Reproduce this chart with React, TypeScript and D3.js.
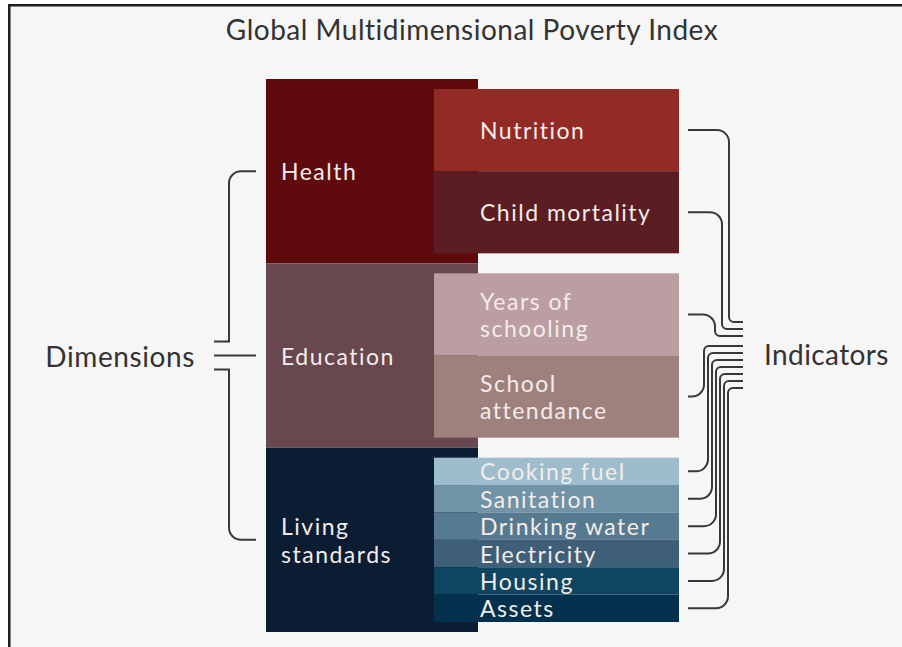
import * as d3 from 'd3';
import React from 'react';

// dimensions of the index, equal weights
const dimensions = ['Health', 'Education', 'Living standards'];
const dimensionWeights = [1 / 3, 1 / 3, 1 / 3];
const dimensionColors = ['#5f0a0d', '#68474f', '#0b1d33'];

// indicators, grouped by dimension
const indicators = [
  'Nutrition', 'Child mortality',
  'Years of schooling', 'School attendance',
  'Cooking fuel', 'Sanitation', 'Drinking water', 'Electricity', 'Housing', 'Assets',
];
const indicatorDimension = [0, 0, 1, 1, 2, 2, 2, 2, 2, 2];
const indicatorWeights = [1 / 6, 1 / 6, 1 / 6, 1 / 6, 1 / 18, 1 / 18, 1 / 18, 1 / 18, 1 / 18, 1 / 18];
const indicatorColors = [
  '#922b26', '#5b1c22',
  '#bb9ea2', '#9e817d',
  '#9ebdcc', '#7093a7', '#567b90', '#3e5f77', '#0e4560', '#03304c',
];
// labels wrapped as in the original
const indicatorLines = [
  ['Nutrition'], ['Child mortality'],
  ['Years of', 'schooling'], ['School', 'attendance'],
  ['Cooking fuel'], ['Sanitation'], ['Drinking water'], ['Electricity'], ['Housing'], ['Assets'],
];
const dimensionLines = [['Health'], ['Education'], ['Living', 'standards']];

const title = 'Global Multidimensional Poverty Index';
const leftLabel = 'Dimensions';
const rightLabel = 'Indicators';

const W = 902;
const H = 647;
const FONT = 'Lato, "Open Sans", sans-serif';
const TEXT_IN = '#f4ecea';
const INK = '#333';

export default function App() {
  // layout
  const dimX = 266, dimW = 212;
  const indX = 434, indW = 245;
  const inset = 10;

  const y = d3.scaleLinear().domain([0, 1]).range([79, 632]);

  const dimCum = d3.cumsum(dimensionWeights);
  const dimRects = dimensions.map((name, i) => {
    const w0 = i === 0 ? 0 : dimCum[i - 1];
    const w1 = dimCum[i];
    return { name, i, y0: y(w0), y1: y(w1), color: dimensionColors[i] };
  });

  // indicator positions inside each dimension
  const indRects = indicators.map((name, k) => {
    const d = indicatorDimension[k];
    const r = dimRects[d];
    const members = indicators.map((_, j) => j).filter(j => indicatorDimension[j] === d);
    const total = d3.sum(members, j => indicatorWeights[j]);
    const before = d3.sum(members.filter(j => j < k), j => indicatorWeights[j]);
    const inner = d3.scaleLinear().domain([0, total]).range([r.y0 + inset, r.y1 - inset]);
    return {
      name, k,
      y0: inner(before),
      y1: inner(before + indicatorWeights[k]),
      color: indicatorColors[k],
    };
  });

  // connectors on the right
  const x0 = 688, x1 = 743;
  const bundleTop = 322, step = 7, gap = 3;
  const downCount = 3; // the three top indicators come down into the bundle
  const connectors = indRects.map((r, k) => {
    const ys = (r.y0 + r.y1) / 2;
    const ye = bundleTop + k * step + (k >= downCount ? gap : 0);
    const vx = k < downCount ? 729 - 7 * k : 704 + 4 * (k - downCount);
    let r1 = 12, r2 = 5;
    const span = Math.abs(ye - ys);
    if (span < r1 + r2) {
      const s = span / (r1 + r2);
      r1 *= s; r2 *= s;
    }
    const dir = ye > ys ? 1 : -1;
    const p = d3.path();
    p.moveTo(x0, ys);
    p.arcTo(vx, ys, vx, ys + dir, r1);
    p.arcTo(vx, ye, vx + 1, ye, r2);
    p.lineTo(x1, ye);
    return p.toString();
  });

  // left bracket
  const cy = dimRects.map(r => (r.y0 + r.y1) / 2);
  const bx = 229, armX = 256, tipX = 214, rb = 12;
  const upper = d3.path();
  upper.moveTo(armX, cy[0]);
  upper.arcTo(bx, cy[0], bx, cy[0] + 1, rb);
  upper.lineTo(bx, cy[1] - 14);
  upper.lineTo(tipX, cy[1] - 14);
  const lower = d3.path();
  lower.moveTo(tipX, cy[1] + 14);
  lower.lineTo(bx, cy[1] + 14);
  lower.arcTo(bx, cy[2], bx + 1, cy[2], rb);
  lower.lineTo(armX, cy[2]);

  const lineH = 27.5;
  const boxFont = 23;
  const boxSpacing = 1.5;

  return (
    <svg
      width={W}
      height={H}
      style={{ position: 'fixed', left: 0, top: 0, display: 'block', background: '#fff' }}
      fontFamily={FONT}
    >
      <rect x={8} y={4} width={W - 8} height={H - 4} fill="#f6f6f6" />
      <rect x={8} y={4} width={W - 8} height={2.5} fill="#1e1e1e" />
      <rect x={8} y={4} width={2.5} height={H - 4} fill="#1e1e1e" />

      <text x={472} y={29} textAnchor="middle" dominantBaseline="central" fontSize={28} letterSpacing={0.5} fill={INK}>
        {title}
      </text>

      {dimRects.map(r => (
        <rect key={r.name} x={dimX} y={r.y0} width={dimW} height={r.y1 - r.y0} fill={r.color} />
      ))}
      {dimRects.map(r => {
        const lines = dimensionLines[r.i];
        const c = (r.y0 + r.y1) / 2;
        return (
          <text key={r.name + 't'} x={281} fontSize={boxFont} letterSpacing={boxSpacing} fill={TEXT_IN}>
            {lines.map((l, j) => (
              <tspan key={l} x={281} y={c + (j - (lines.length - 1) / 2) * lineH} dominantBaseline="central">
                {l}
              </tspan>
            ))}
          </text>
        );
      })}

      {indRects.map(r => (
        <rect key={r.name} x={indX} y={r.y0} width={indW} height={r.y1 - r.y0} fill={r.color} />
      ))}
      {indRects.map(r => {
        const lines = indicatorLines[r.k];
        const c = (r.y0 + r.y1) / 2;
        return (
          <text key={r.name + 't'} x={480} fontSize={boxFont} letterSpacing={boxSpacing} fill={TEXT_IN}>
            {lines.map((l, j) => (
              <tspan key={l} x={480} y={c + (j - (lines.length - 1) / 2) * lineH} dominantBaseline="central">
                {l}
              </tspan>
            ))}
          </text>
        );
      })}

      <g fill="none" stroke="#383838" strokeWidth={2}>
        {connectors.map((d, k) => <path key={k} d={d} />)}
        <path d={upper.toString()} />
        <path d={lower.toString()} />
        <line x1={tipX} x2={armX} y1={cy[1]} y2={cy[1]} />
      </g>

      <text x={195} y={cy[1]} textAnchor="end" dominantBaseline="central" fontSize={28} letterSpacing={0.6} fill={INK}>
        {leftLabel}
      </text>
      <text x={764} y={354} dominantBaseline="central" fontSize={28} letterSpacing={0.4} fill={INK}>
        {rightLabel}
      </text>
    </svg>
  );
}
